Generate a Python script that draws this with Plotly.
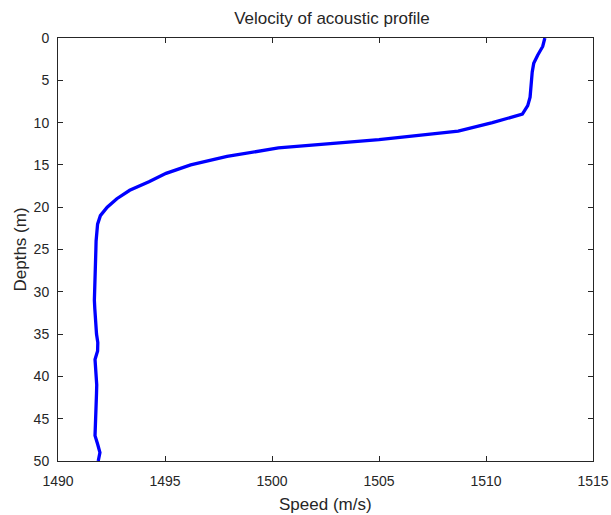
import plotly.graph_objects as go

depths = list(range(0, 51))
speeds = [
    1512.75, 1512.65, 1512.42, 1512.23, 1512.16, 1512.13, 1512.10, 1512.06, 1511.95, 1511.70,
    1510.30, 1508.70, 1505.00, 1500.30, 1497.90, 1496.20, 1495.05, 1494.25, 1493.35, 1492.75,
    1492.30, 1491.98, 1491.85, 1491.80, 1491.78, 1491.77, 1491.76, 1491.74, 1491.72, 1491.71,
    1491.70, 1491.70, 1491.72, 1491.74, 1491.77, 1491.80, 1491.86, 1491.85, 1491.73, 1491.76,
    1491.79, 1491.81, 1491.80, 1491.79, 1491.79, 1491.78, 1491.76, 1491.73, 1491.85, 1491.96,
    1491.88,
]

x_ticks = [1490, 1495, 1500, 1505, 1510, 1515]
y_ticks = [0, 5, 10, 15, 20, 25, 30, 35, 40, 45, 50]

title_text = "Velocity of acoustic profile"
x_label = "Speed (m/s)"
y_label = "Depths (m)"

FONT = "Liberation Sans, Arial, sans-serif"
INK = "#262626"

fig = go.Figure()
fig.add_trace(go.Scatter(
    x=speeds, y=depths, mode="lines",
    line=dict(color="rgb(0,0,255)", width=3.3),
    showlegend=False,
))

axis_common = dict(
    showline=True, linecolor=INK, linewidth=1,
    mirror="ticks", ticks="inside", ticklen=5, tickcolor=INK,
    showgrid=False, zeroline=False, automargin=False,
    tickfont=dict(family=FONT, size=14, color=INK),
)

fig.update_layout(
    template="none",
    width=611, height=515,
    margin=dict(l=58, r=18, t=38, b=54, autoexpand=False),
    paper_bgcolor="white", plot_bgcolor="white",
    font=dict(family=FONT, color=INK),
    title=dict(text=title_text, x=332/611, xanchor="center",
               y=1 - 18/515, yanchor="middle", yref="container",
               font=dict(size=17, color=INK)),
    xaxis=dict(range=[1490, 1515], tickvals=x_ticks, ticklabelstandoff=7, **axis_common),
    yaxis=dict(range=[50, 0], tickvals=y_ticks, ticklabelstandoff=5, **axis_common),
    annotations=[
        dict(text=x_label, xref="paper", yref="paper", x=0.5, y=-(505 - 461) / 423,
             xanchor="center", yanchor="middle", showarrow=False,
             font=dict(size=17, color=INK, family=FONT)),
        dict(text=y_label, xref="paper", yref="paper", x=-(58 - 20) / 535, y=0.5,
             xanchor="center", yanchor="middle", textangle=-90, showarrow=False,
             font=dict(size=17, color=INK, family=FONT)),
    ],
)

fig.write_html("out.html")
